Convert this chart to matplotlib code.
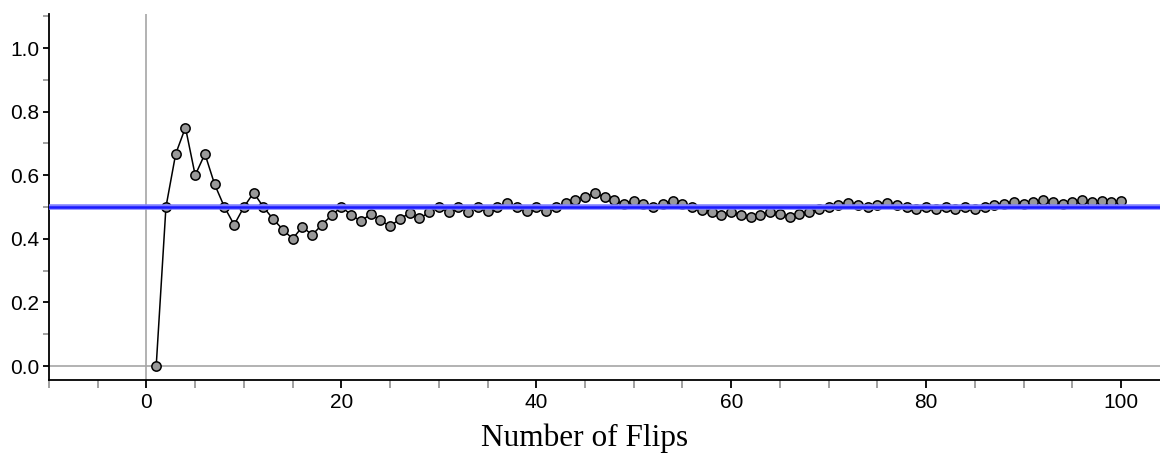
import numpy as np
import matplotlib
matplotlib.use("Agg")
import matplotlib.pyplot as plt
from matplotlib.ticker import MultipleLocator

# Running proportion of heads after each flip
flips = list(range(1, 101))
proportion = [
    0.000, 0.500, 0.667, 0.750, 0.600, 0.667, 0.571, 0.500, 0.444, 0.500,
    0.545, 0.500, 0.462, 0.429, 0.400, 0.438, 0.412, 0.444, 0.474, 0.500,
    0.476, 0.455, 0.478, 0.458, 0.440, 0.462, 0.481, 0.464, 0.483, 0.500,
    0.484, 0.500, 0.485, 0.500, 0.486, 0.500, 0.514, 0.500, 0.487, 0.500,
    0.488, 0.500, 0.512, 0.523, 0.533, 0.543, 0.532, 0.521, 0.510, 0.520,
    0.510, 0.500, 0.509, 0.519, 0.509, 0.500, 0.491, 0.483, 0.475, 0.483,
    0.475, 0.468, 0.476, 0.484, 0.477, 0.470, 0.478, 0.485, 0.493, 0.500,
    0.507, 0.514, 0.507, 0.500, 0.507, 0.513, 0.506, 0.500, 0.494, 0.500,
    0.494, 0.500, 0.494, 0.500, 0.494, 0.500, 0.506, 0.511, 0.517, 0.511,
    0.516, 0.522, 0.516, 0.511, 0.516, 0.521, 0.515, 0.520, 0.515, 0.520,
]
reference_value = 0.5
x_label = "Number of Flips"

fig = plt.figure(figsize=(11.6, 4.53), dpi=100)
ax = fig.add_axes([49 / 1160, 1 - 380 / 453, 1 - 49 / 1160, 366 / 453])

# zero lines
ax.axvline(0, color="#a6a6a6", lw=1.2, zorder=1)
ax.axhline(0, color="#a6a6a6", lw=1.2, zorder=1)

ax.plot(flips, proportion, color="black", lw=1.1, marker="o", ms=6.7,
        mfc="#999999", mec="black", mew=1.1, zorder=3)

# expected proportion
ax.axhline(reference_value, color="#8080ff", lw=4.0, zorder=4)
ax.axhline(reference_value, color="#1a1aff", lw=1.8, zorder=5)

ax.set_xlim(-10, 104)
ax.set_ylim(-0.044, 1.107)

ax.xaxis.set_major_locator(MultipleLocator(20))
ax.xaxis.set_minor_locator(MultipleLocator(5))
ax.yaxis.set_minor_locator(MultipleLocator(0.1))
ax.set_yticks(np.arange(0, 1.01, 0.2))
ax.set_yticklabels([f"{v:.1f}" for v in np.arange(0, 1.01, 0.2)])

for side in ["top", "right"]:
    ax.spines[side].set_visible(False)
for side in ["left", "bottom"]:
    ax.spines[side].set_linewidth(1.3)

ax.tick_params(axis="both", which="major", length=6, width=1.3, color="black",
               labelsize=15, pad=3)
ax.tick_params(axis="both", which="minor", length=6, width=1.3, color="#9a9a9a")
ax.tick_params(axis="y", which="major", length=4)
ax.tick_params(axis="y", which="minor", length=4)
for lab in ax.get_xticklabels() + ax.get_yticklabels():
    lab.set_fontfamily("Liberation Sans")

ax.set_xlabel(x_label, fontsize=22.5, family="Liberation Serif")
ax.xaxis.set_label_coords(0.4825, -0.118)

fig.savefig("out.png", dpi=100)
